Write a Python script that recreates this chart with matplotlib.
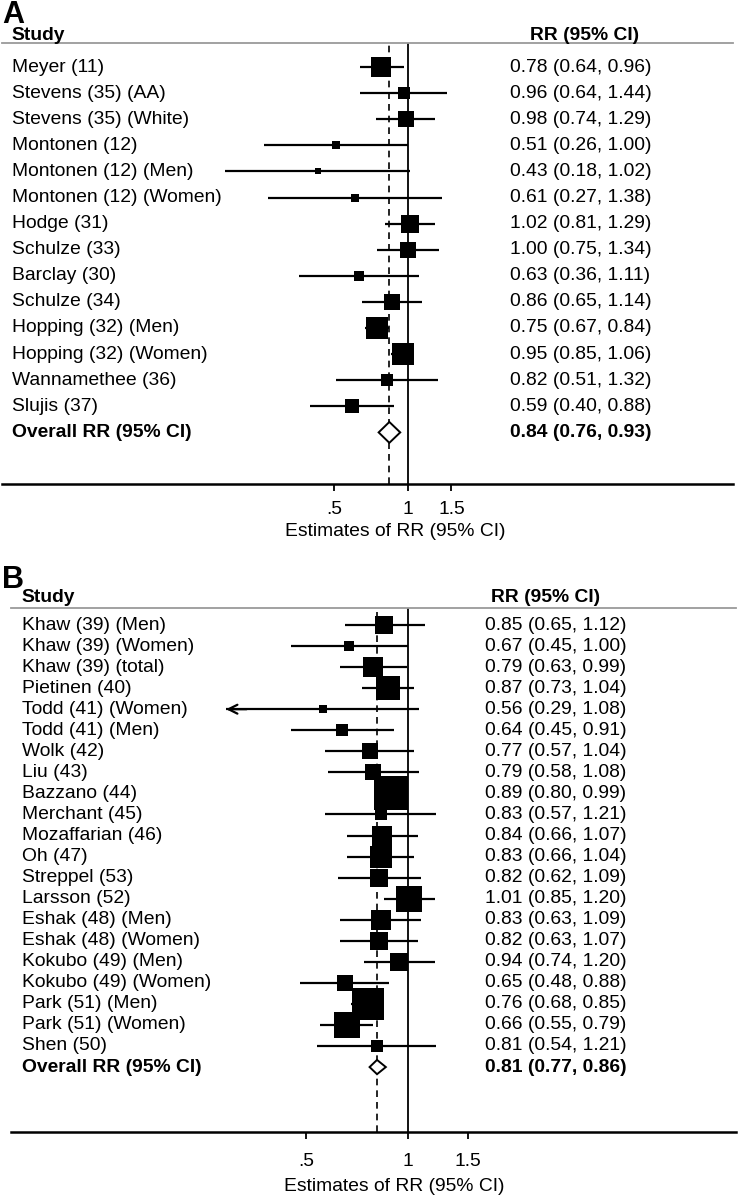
import numpy as np
import matplotlib
matplotlib.use('Agg')
import matplotlib.pyplot as plt
from matplotlib.patches import Polygon
from matplotlib.transforms import blended_transform_factory
from matplotlib.ticker import NullLocator

plt.rcParams['font.family'] = ['Liberation Sans', 'DejaVu Sans']

# ---- panel A data ----
studies_a = ['Meyer (11)', 'Stevens (35) (AA)', 'Stevens (35) (White)', 'Montonen (12)',
             'Montonen (12) (Men)', 'Montonen (12) (Women)', 'Hodge (31)', 'Schulze (33)',
             'Barclay (30)', 'Schulze (34)', 'Hopping (32) (Men)', 'Hopping (32) (Women)',
             'Wannamethee (36)', 'Slujis (37)']
rr_a = [0.78, 0.96, 0.98, 0.51, 0.43, 0.61, 1.02, 1.00, 0.63, 0.86, 0.75, 0.95, 0.82, 0.59]
lo_a = [0.64, 0.64, 0.74, 0.26, 0.18, 0.27, 0.81, 0.75, 0.36, 0.65, 0.67, 0.85, 0.51, 0.40]
hi_a = [0.96, 1.44, 1.29, 1.00, 1.02, 1.38, 1.29, 1.34, 1.11, 1.14, 0.84, 1.06, 1.32, 0.88]
wt_a = [11.3, 4.5, 8.0, 2.5, 1.5, 2.0, 10.1, 8.0, 3.1, 8.0, 15.1, 15.1, 4.5, 6.1]
overall_a = (0.84, 0.76, 0.93)

# ---- panel B data ----
studies_b = ['Khaw (39) (Men)', 'Khaw (39) (Women)', 'Khaw (39) (total)', 'Pietinen (40)',
             'Todd (41) (Women)', 'Todd (41) (Men)', 'Wolk (42)', 'Liu (43)', 'Bazzano (44)',
             'Merchant (45)', 'Mozaffarian (46)', 'Oh (47)', 'Streppel (53)', 'Larsson (52)',
             'Eshak (48) (Men)', 'Eshak (48) (Women)', 'Kokubo (49) (Men)', 'Kokubo (49) (Women)',
             'Park (51) (Men)', 'Park (51) (Women)', 'Shen (50)']
rr_b = [0.85, 0.67, 0.79, 0.87, 0.56, 0.64, 0.77, 0.79, 0.89, 0.83, 0.84, 0.83, 0.82, 1.01,
        0.83, 0.82, 0.94, 0.65, 0.76, 0.66, 0.81]
lo_b = [0.65, 0.45, 0.63, 0.73, 0.29, 0.45, 0.57, 0.58, 0.80, 0.57, 0.66, 0.66, 0.62, 0.85,
        0.63, 0.63, 0.74, 0.48, 0.68, 0.55, 0.54]
hi_b = [1.12, 1.00, 0.99, 1.04, 1.08, 0.91, 1.04, 1.08, 0.99, 1.21, 1.07, 1.04, 1.09, 1.20,
        1.09, 1.07, 1.20, 0.88, 0.85, 0.79, 1.21]
wt_b = [3.6, 1.5, 4.5, 7.2, 0.8, 1.8, 3.2, 3.2, 13.6, 2.1, 4.5, 5.5, 3.6, 7.8,
        4.5, 4.0, 3.6, 3.2, 12.0, 7.8, 2.1]
overall_b = (0.81, 0.77, 0.86)

overall_label = 'Overall RR (95% CI)'
x_ticks = [0.5, 1, 1.5]
x_ticklabels = ['.5', '1', '1.5']
x_label = 'Estimates of RR (95% CI)'

W, H = 739, 1199
fig = plt.figure(figsize=(W / 100, H / 100), dpi=100)
FS = 13.9


def fmt(r, l, h):
    return f'{r:.2f} ({l:.2f}, {h:.2f})'


def forest(letter, studies, rr, lo, hi, wt, overall, c):
    ax = fig.add_axes([c['x0'] / W, 1 - c['bot'] / H, (c['x1'] - c['x0']) / W,
                       (c['bot'] - c['top']) / H])
    k = c['k']
    ax.set_xscale('log')
    ax.set_xlim(np.exp((c['x0'] - c['xref']) / k), np.exp((c['x1'] - c['xref']) / k))
    ax.set_ylim((c['bot'] - c['row0']) / c['step'], (c['top'] - c['row0']) / c['step'])

    n = len(studies)
    y = np.arange(n)
    for i in range(n):
        ax.plot([lo[i], hi[i]], [y[i], y[i]], color='black', lw=1.6, zorder=2,
                solid_capstyle='butt')
        if lo[i] < c['clip']:
            # truncated CI -> arrow head at the lower end
            ax.annotate('', xy=(lo[i], y[i]), xytext=(lo[i] * 1.15, y[i]),
                        arrowprops=dict(arrowstyle='->', lw=1.6, color='black',
                                        mutation_scale=16, shrinkA=0, shrinkB=0))
        side = np.sqrt(wt[i]) * c['box'] * 0.72
        ax.plot(rr[i], y[i], 's', color='black', ms=side, mew=0, zorder=3)

    # overall diamond
    r0, l0, h0 = overall
    hh = c['dh']
    ax.add_patch(Polygon([(l0, n), (r0, n - hh), (h0, n), (r0, n + hh)], closed=True,
                         facecolor='white', edgecolor='black', lw=1.4, zorder=4))

    ax.axvline(1, color='black', lw=1.3, zorder=1)
    ax.axvline(r0, color='black', lw=1.2, ls=(0, (4, 3)), zorder=1)

    # text columns
    tr = blended_transform_factory(fig.transFigure, ax.transData)
    for i in range(n):
        ax.text(c['lx'] / W, y[i], studies[i], transform=tr, va='center', ha='left',
                fontsize=FS)
        ax.text(c['vx'] / W, y[i], fmt(rr[i], lo[i], hi[i]), transform=tr, va='center',
                ha='left', fontsize=FS)
    ax.text(c['lx'] / W, n, overall_label, transform=tr, va='center', ha='left',
            fontsize=FS, fontweight='bold')
    ax.text(c['vx'] / W, n, fmt(r0, l0, h0), transform=tr, va='center', ha='left',
            fontsize=FS, fontweight='bold')
    hy = (c['hy'] - c['row0']) / c['step']
    ax.text(c['lx'] / W, hy, 'Study', transform=tr, va='center', ha='left',
            fontsize=FS, fontweight='bold', clip_on=False)
    ax.text(c['hx'] / W, hy, 'RR (95% CI)', transform=tr, va='center', ha='left',
            fontsize=FS, fontweight='bold', clip_on=False)
    fig.text(2 / W, 1 - c['ly'] / H, letter, fontsize=22, fontweight='bold',
             va='top', ha='left')

    for s in ['left', 'right']:
        ax.spines[s].set_visible(False)
    ax.spines['top'].set_color('#9a9a9a')
    ax.spines['top'].set_linewidth(1.3)
    ax.spines['bottom'].set_linewidth(1.8)
    ax.set_yticks([])
    ax.xaxis.set_minor_locator(NullLocator())
    ax.set_xticks(x_ticks)
    ax.set_xticklabels(x_ticklabels)
    ax.tick_params(axis='x', direction='out', length=5, width=1.3, labelsize=FS,
                   pad=c['tpad'])
    ax.set_xlabel(x_label, fontsize=FS)
    ax.xaxis.set_label_coords(c['xlab'], c['xlab_y'])
    return ax


cfg_a = dict(x0=2, x1=733, xref=408, k=107, top=43, bot=484, row0=67, step=26.1,
             box=5.66, clip=0.0, dh=0.4, lx=12, vx=510, hx=530, hy=36, ly=0,
             tpad=7, xlab=0.538, xlab_y=-0.088)
cfg_b = dict(x0=11, x1=736, xref=408, k=147, top=608, bot=1132, row0=625, step=21.05,
             box=8.96, clip=0.3, dh=0.34, lx=22, vx=485, hx=491, hy=598, ly=565,
             tpad=10, xlab=0.528, xlab_y=-0.088)

forest('A', studies_a, rr_a, lo_a, hi_a, wt_a, overall_a, cfg_a)
forest('B', studies_b, rr_b, lo_b, hi_b, wt_b, overall_b, cfg_b)

fig.savefig('out.png', dpi=100)
